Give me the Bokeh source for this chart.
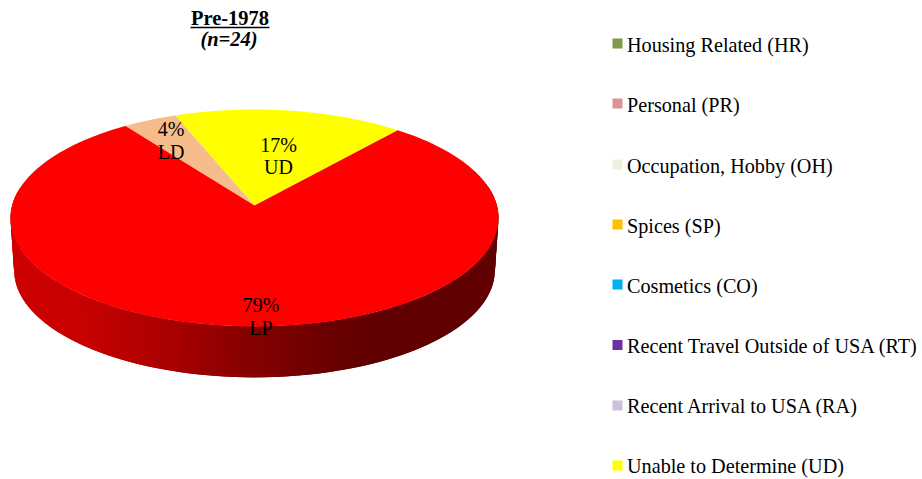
import numpy as np
from bokeh.plotting import figure
from bokeh.embed import file_html
from bokeh.resources import INLINE
from bokeh.core.properties import value

# --- data ---
slice_names = ["UD", "LD", "LP"]
slice_shares = [17, 4, 79]
slice_colors = ["#FFFF00", "#F6BC8C", "#FF0000"]

legend_labels = ["Housing Related (HR)", "Personal (PR)", "Occupation, Hobby (OH)", "Spices (SP)",
                 "Cosmetics (CO)", "Recent Travel Outside of USA (RT)", "Recent Arrival to USA (RA)",
                 "Unable to Determine (UD)"]
legend_colors = ["#7F9A48", "#D99694", "#EBF1DE", "#FFC000", "#00B0F0", "#7030A0", "#CCC1DA", "#FFFF00"]
legend_text_y = [44, 104, 165, 225, 285, 345, 405, 465]
legend_mark_y = [43, 103, 164, 224, 284, 344.5, 405, 465]

# --- layout (page pixels) ---
FONT = value("Liberation Serif")
CX, CY = 254, 205
R, S, K = 242.4, 107.0, 0.115
START_DEG = 50.0
WALL_SCALE, WALL_DROP = 0.985, 52.8

p = figure(width=922, height=479, x_range=(0, 922), y_range=(479, 0), output_backend="svg",
           toolbar_location=None, min_border=0, outline_line_color=None,
           background_fill_color="white", border_fill_color="white")
p.xaxis.visible = False
p.yaxis.visible = False
p.xgrid.visible = False
p.ygrid.visible = False


def rim(deg):
    a = np.radians(deg)
    w = 1 + K * np.sin(a)
    return CX + R * np.cos(a) / w, CY - S * np.sin(a) / w


def wall_rim(deg):
    x, y = rim(deg)
    return CX + WALL_SCALE * (x - CX), CY + WALL_DROP + WALL_SCALE * (y - CY)


def wall_color(x):
    stops_x = [10, 85, 170, 250, 330, 375, 500]
    stops_r = [205, 200, 170, 135, 108, 96, 96]
    return "#%02x0000" % int(np.interp(x, stops_x, stops_r))


# side wall as overlapping strips, shaded by horizontal position
edges = np.arange(170, 371, 2.0)
for a0, a1 in zip(edges[:-1], edges[1:]):
    arc = np.array([a0, a1 + 2.0])
    tx, ty = rim(arc)
    bx, by = wall_rim(arc[::-1])
    c = wall_color(0.5 * (tx[0] + tx[1]))
    p.patch(list(tx) + list(bx), list(ty) + list(by), fill_color=c, line_color=None)

# top face
angle = START_DEG
for share, color in zip(slice_shares, slice_colors):
    sweep = share / sum(slice_shares) * 360
    rx, ry = rim(np.linspace(angle, angle + sweep, 240))
    p.patch([CX] + list(rx), [CY] + list(ry), fill_color=color, line_color=None)
    angle += sweep

# slice labels
label_x = [278, 170.5, 260.5]
label_pct_y = [144, 128, 304]
label_name_y = [166.5, 151.5, 327]
for n, s, x, y1, y2 in zip(slice_names, slice_shares, label_x, label_pct_y, label_name_y):
    p.text([x], [y1], text=[f"{s}%"], text_font=FONT, text_font_size="20px", text_color="black",
           text_align="center", text_baseline="middle")
    p.text([x], [y2], text=[n], text_font=FONT, text_font_size="20px", text_color="black",
           text_align="center", text_baseline="middle")

# title
p.text([229.5], [17], text=["Pre-1978"], text_font=FONT, text_font_size="20.5px", text_font_style="bold",
       text_color="black", text_align="center", text_baseline="middle")
p.line([190, 269], [27, 27], line_color="black", line_width=1.5)
p.text([228.5], [38], text=["(n=24)"], text_font=FONT, text_font_size="20.5px", text_font_style="bold italic",
       text_color="black", text_align="center", text_baseline="middle")

# legend
p.scatter([617] * len(legend_colors), legend_mark_y, marker="square", size=10,
          fill_color=legend_colors, line_color=None)
p.text([626.5] * len(legend_labels), legend_text_y, text=legend_labels, text_font=FONT,
       text_font_size="20.2px", text_color="black", text_align="left", text_baseline="middle")

open("out.html", "w").write(file_html(p, INLINE))
